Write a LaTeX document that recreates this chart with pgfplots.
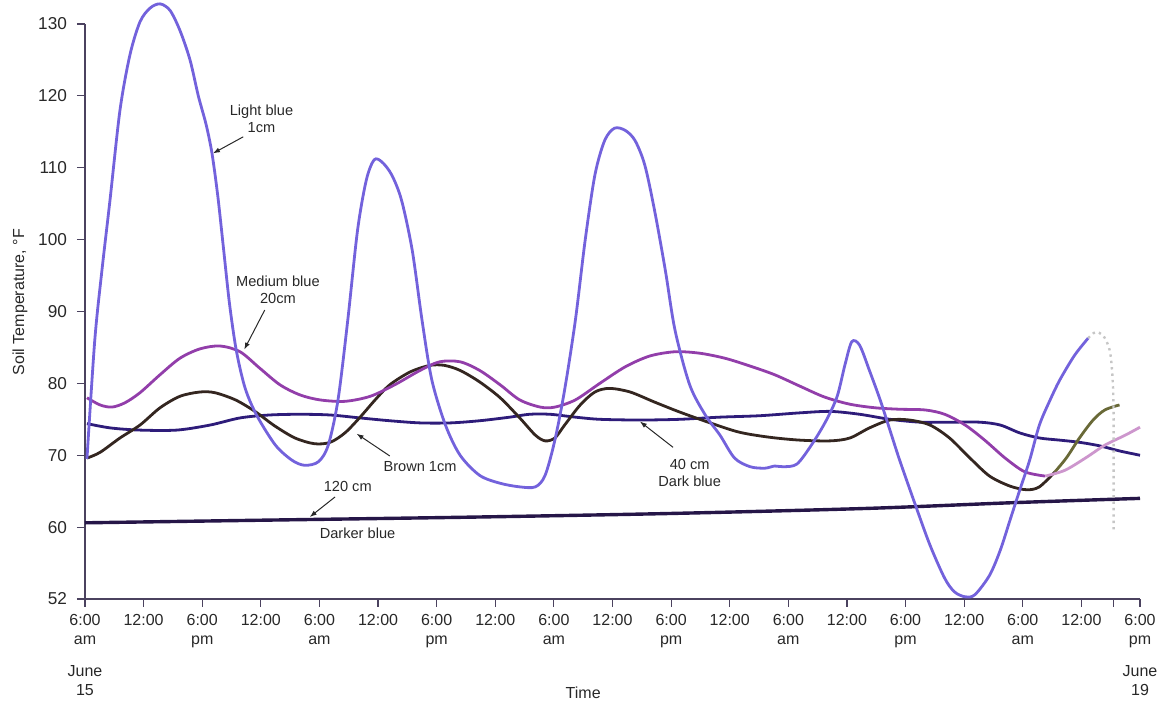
\documentclass[border=0pt]{standalone}
\usepackage{pgfplots}
\pgfplotsset{compat=1.18}
\usetikzlibrary{arrows.meta}
\usepackage{fontspec}
\setmainfont{Liberation Sans}
\definecolor{lightb}{RGB}{115,98,220}
\definecolor{medb}{RGB}{146,62,170}
\definecolor{medpink}{RGB}{205,150,205}
\definecolor{brownc}{RGB}{52,38,32}
\definecolor{olivec}{RGB}{105,105,55}
\definecolor{darkb}{RGB}{46,28,122}
\definecolor{darkerb}{RGB}{38,22,72}
\definecolor{axisc}{RGB}{75,66,95}
\definecolor{txt}{RGB}{40,40,40}
\begin{document}
\begin{tikzpicture}
\useasboundingbox (-42.5pt,-53pt) rectangle (541pt,299.5pt);
\begin{axis}[
  at={(0,0)}, anchor=south west,
  scale only axis, width=527.5pt, height=287.5pt,
  xmin=0, xmax=108, ymin=50, ymax=130,
  axis x line*=bottom, axis y line*=left,
  clip=false,
  tick align=outside, major tick length=4pt,
  axis line style={draw=axisc, line width=0.8pt},
  tick style={draw=axisc, line width=0.6pt},
  xtick={0,6,...,108},
  xticklabels={{6:00\\am},12:00,{6:00\\pm},12:00,{6:00\\am},12:00,{6:00\\pm},12:00,{6:00\\am},12:00,{6:00\\pm},12:00,{6:00\\am},12:00,{6:00\\pm},12:00,{6:00\\am},12:00,{6:00\\pm}},
  extra x ticks={105.3}, extra x tick labels={},
  ytick={50,60,...,130},
  yticklabels={52,60,70,80,90,100,110,120,130},
  xticklabel style={font=\fontsize{8}{9.4}\selectfont, align=center, text=txt},
  yticklabel style={font=\fontsize{8.6}{10}\selectfont, text=txt, xshift=-1.5pt},
]
% 120 cm - darker blue
\addplot[darkerb, line width=1.7pt, smooth] coordinates {
(0,60.6) (20,61.0) (40,61.4) (60,61.9) (80,62.6) (95,63.4) (108,64.0)};
% 40 cm - dark blue
\addplot[darkb, line width=1.4pt, smooth] coordinates {
(0.2,74.4) (2.6,73.8) (5.6,73.5) (9.4,73.5) (12.8,74.2) (15.9,75.2) (18.9,75.6) (22.0,75.7)
(25.1,75.6) (28.1,75.2) (31.2,74.8) (34.3,74.5) (37.4,74.5) (40.4,74.8) (43.5,75.3) (45.5,75.7)
(47.6,75.7) (50.2,75.3) (52.7,75.0) (56.8,74.9) (60.9,75.0) (65.0,75.3) (69.1,75.5) (73.2,75.9)
(76.3,76.1) (79.3,75.7) (82.4,75.0) (85.5,74.6) (88.5,74.6) (91.6,74.6) (93.7,74.2) (95.7,73.1)
(97.7,72.4) (99.8,72.1) (101.8,71.8) (103.9,71.3) (105.9,70.6) (108.0,70.0)};
% Brown 1 cm
\addplot[brownc, line width=1.4pt, smooth] coordinates {
(0.2,69.6) (1.54,70.4) (3.58,72.4) (5.63,74.2) (7.68,76.6) (9.72,78.2) (11.77,78.8) (13.3,78.7)
(15.4,77.7) (17.4,76.1) (19.4,74.1) (21.5,72.4) (23.5,71.6) (25.1,71.8) (26.6,73.1) (28.1,75.2)
(29.7,77.7) (31.2,79.8) (33.3,81.6) (35.3,82.5) (36.8,82.5) (38.4,81.8) (40.4,80.2) (42.5,78.0)
(44.5,75.2) (46.1,72.8) (47.1,72.0) (48.1,72.4) (49.1,74.2) (50.7,77.0) (52.2,78.8) (53.7,79.3)
(55.8,78.8) (58.3,77.4) (60.9,76.0) (64.0,74.5) (67.0,73.2) (70.1,72.5) (73.2,72.1) (76.3,72.0)
(78.3,72.4) (80.3,73.8) (82.4,74.9) (84.4,74.9) (86.5,74.2) (88.5,72.4) (90.6,69.6) (92.6,67.1)
(94.7,65.7) (96.4,65.2) (97.7,65.6) (99.3,67.7)};
\addplot[olivec, line width=1.4pt, smooth] coordinates {
(99.3,67.7) (100.5,69.7) (101.8,72.4) (103.2,74.9) (104.4,76.3) (105.9,77.0)};
% Medium blue 20 cm
\addplot[medb, line width=1.4pt, smooth] coordinates {
(0.2,78.0) (1.54,77.0) (2.76,76.7) (4.09,77.3) (5.63,78.7) (7.68,81.2) (9.72,83.5) (11.77,84.8)
(13.82,85.2) (15.87,84.4) (17.9,82.1) (19.96,79.8) (22.0,78.4) (24.05,77.7) (26.6,77.5) (29.2,78.2)
(31.7,79.8) (34.3,81.8) (36.3,83.0) (38.4,83.0) (40.4,81.8) (42.5,79.8) (44.5,77.7) (46.6,76.7)
(48.1,76.7) (50.2,77.7) (52.7,80.0) (55.3,82.3) (57.8,83.8) (60.4,84.4) (62.9,84.2) (65.5,83.5)
(68.1,82.4) (70.6,81.2) (73.2,79.6) (75.7,78.1) (78.3,77.1) (80.9,76.6) (83.4,76.4) (86.0,76.3)
(88.0,75.7) (90.1,74.2) (92.1,72.1) (94.2,69.6) (96.2,67.7) (98.3,67.1)};
\addplot[medpink, line width=1.4pt, smooth] coordinates {
(98.3,67.1) (100.3,67.9) (102.4,69.6) (104.4,71.4) (106.5,72.8) (108.0,73.9)};
% Light blue 1 cm
\addplot[lightb, line width=1.4pt, smooth] coordinates {
(0.2,69.5) (1.0,86.0) (1.74,95.8) (2.56,105.5) (3.58,118.0) (4.6,125.7) (5.63,130.3) (6.65,132.2)
(7.68,132.8) (8.7,131.9) (9.72,129.1) (10.75,125.0) (11.6,120.0) (12.4,116.0) (13.0,112.0)
(13.6,106.0) (14.2,98.5) (14.8,91.0) (15.5,84.5) (16.4,79.3) (17.6,75.5) (19.5,71.4) (21.2,69.3)
(22.5,68.6) (23.9,69.1) (24.9,71.4) (25.9,77.7) (26.9,88.8) (27.9,101.3) (28.8,108.3) (29.6,111.1)
(30.4,110.8) (31.4,109.0) (32.4,105.5) (33.5,98.5) (34.5,88.8) (35.5,80.5) (36.9,74.2) (38.4,70.0)
(40.4,67.2) (42.5,66.1) (44.5,65.6) (46.1,65.6) (47.1,67.2) (48.1,72.1) (49.1,79.1) (50.2,88.8)
(51.2,99.9) (52.2,109.0) (53.2,113.8) (54.2,115.5) (55.3,115.2) (56.3,113.8) (57.3,110.4) (58.3,104.1)
(59.4,95.8) (60.4,87.4) (61.9,79.8) (63.5,75.6) (65.0,72.8) (66.5,69.6) (68.1,68.4) (69.6,68.2)
(70.6,68.5) (71.5,68.4) (72.9,68.8) (74.5,71.7) (75.9,74.9) (77.0,78.2) (77.8,82.6) (78.5,85.8)
(79.3,85.3) (80.3,81.8) (81.4,77.7) (82.4,73.5) (83.4,69.3) (85.0,63.1) (86.5,57.5) (88.0,52.9)
(89.0,51.0) (90.1,50.3) (91.1,50.6) (92.6,53.3) (93.7,56.8) (94.7,61.0) (95.7,65.2) (96.7,69.3)
(97.7,74.2) (98.8,77.7) (99.8,80.5) (101.3,83.9) (102.7,86.3)};
\addplot[gray!45, dotted, line width=1.2pt, smooth] coordinates {
(102.7,86.3) (103.4,87.1) (104.2,86.7) (104.9,84.6) (105.2,80.5) (105.3,74.9) (105.3,59.2)};
% annotations
\begin{scope}[every node/.style={font=\fontsize{7.3}{8.6}\selectfont, align=center, text=txt}]
\node at (18.07,116.8) {Light blue\\1cm};
\draw[txt, line width=0.5pt, -{Latex[length=3.5pt,width=2.5pt]}] (16.2,114.3) -- (13.1,112.0);
\node at (19.75,93.0) {Medium blue\\20cm};
\draw[txt, line width=0.5pt, -{Latex[length=3.5pt,width=2.5pt]}] (18.4,90.2) -- (16.3,84.7);
\node at (34.3,68.4) {Brown 1cm};
\draw[txt, line width=0.5pt, -{Latex[length=3.5pt,width=2.5pt]}] (31.2,69.9) -- (27.8,73.0);
\node at (26.9,65.6) {120 cm};
\draw[txt, line width=0.5pt, -{Latex[length=3.5pt,width=2.5pt]}] (25.6,64.2) -- (23.0,61.4);
\node at (27.9,59.2) {Darker blue};
\node at (61.9,67.5) {40 cm\\Dark blue};
\draw[txt, line width=0.5pt, -{Latex[length=3.5pt,width=2.5pt]}] (60.2,71.1) -- (56.8,74.7);
\end{scope}
\node[font=\fontsize{8}{9.4}\selectfont, text=txt, rotate=90] at (-6.65,91.3) {Soil Temperature, °F};
\node[font=\fontsize{8}{9.4}\selectfont, text=txt] at (51.0,36.9) {Time};
\node[font=\fontsize{8}{9.4}\selectfont, text=txt, align=center] at (0,38.6) {June\\15};
\node[font=\fontsize{8}{9.4}\selectfont, text=txt, align=center] at (108,38.6) {June\\19};
\end{axis}
\end{tikzpicture}
\end{document}
